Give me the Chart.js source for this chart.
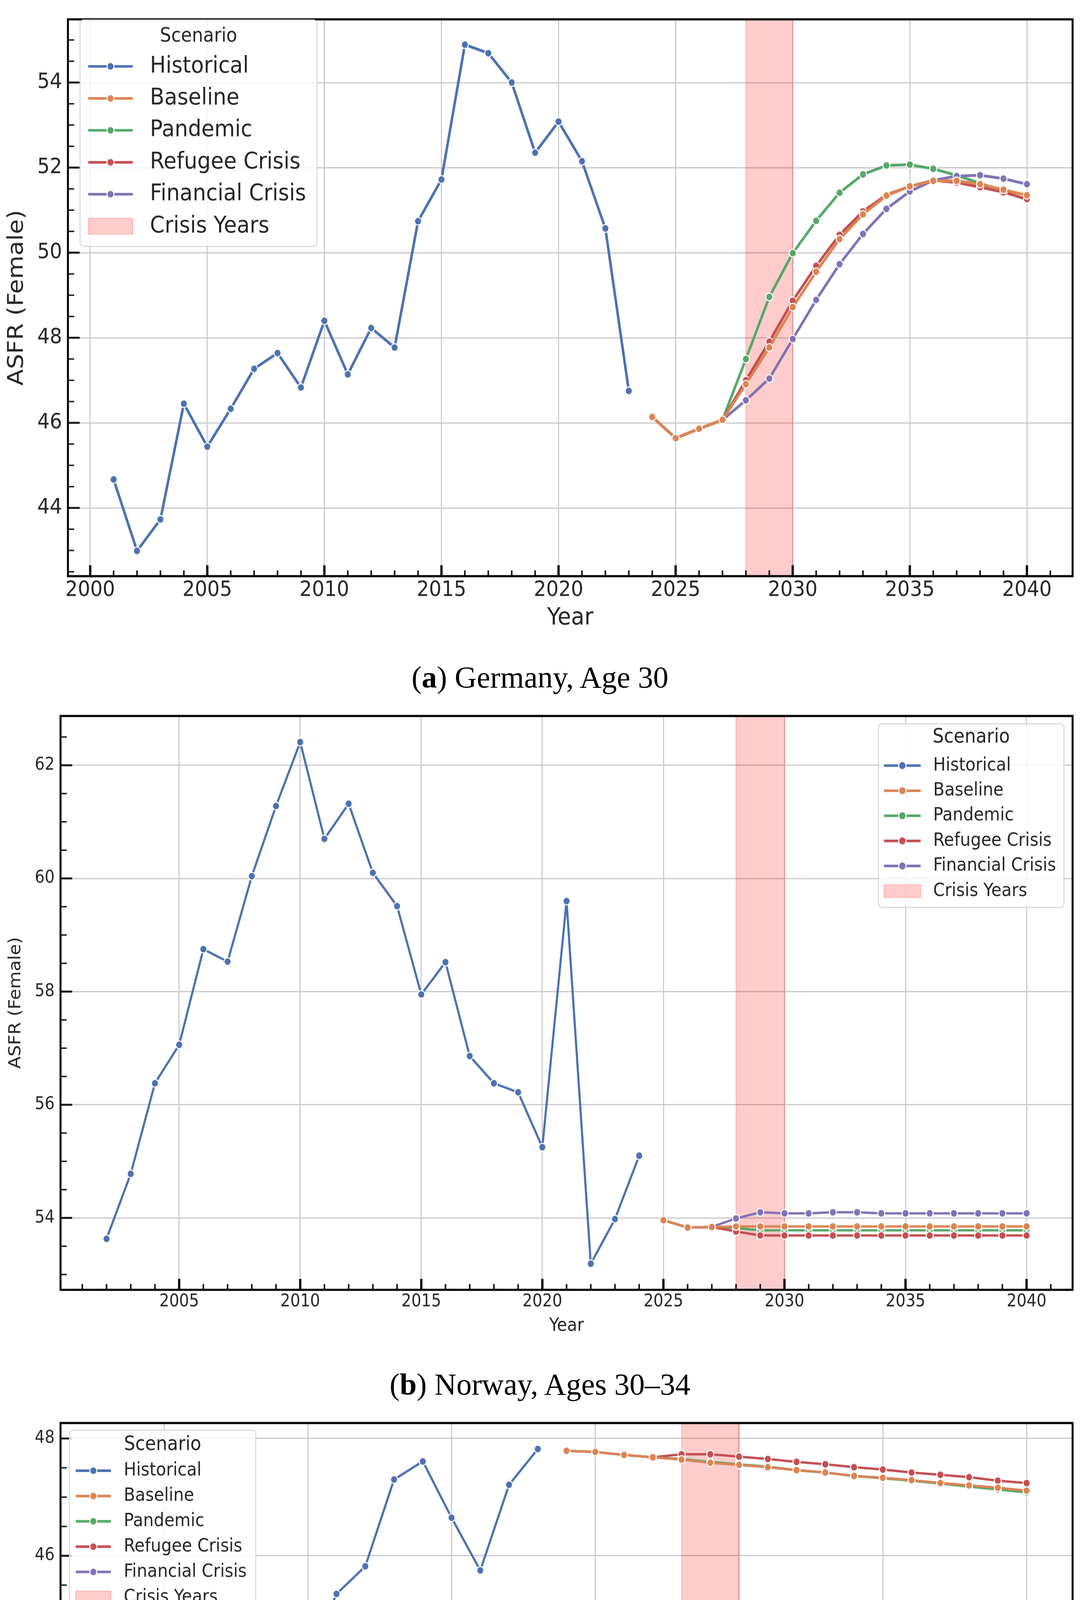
<!DOCTYPE html>
<html>
<head>
<meta charset="utf-8">
<title>ASFR scenarios</title>
<script src="https://cdn.jsdelivr.net/npm/chart.js@4.4.1/dist/chart.umd.min.js"></script>
<style>
  html, body { margin: 0; padding: 0; background: #fff; }
  body { width: 2766px; height: 5407px; position: relative; overflow: hidden; }
  canvas { position: absolute; left: 0; }
  .cap { position: absolute; left: 0; width: 2766px; text-align: center; white-space: nowrap;
         font-family: 'Liberation Serif', 'Times New Roman', serif; font-size: 78px; line-height: 78px; color: #000; }
</style>
</head>
<body>
<canvas id="de" width="2766" height="1500" style="top:0px;width:2766px;height:1650px"></canvas>
<div class="cap" style="top:1695px">(<b>a</b>) Germany, Age 30</div>
<canvas id="no" width="2766" height="1500" style="top:1790px;width:2766px;height:1650px"></canvas>
<div class="cap" style="top:3505px">(<b>b</b>) Norway, Ages 30–34</div>
<canvas id="pt" width="2766" height="1500" style="top:3600px;width:2766px;height:1650px"></canvas>
<div class="cap" style="top:5310px">(<b>c</b>) Portugal, Ages 30–34</div>

<script>
// --- Germany, age 30 ---
var deHistYears = [2001, 2002, 2003, 2004, 2005, 2006, 2007, 2008, 2009, 2010, 2011, 2012,
                   2013, 2014, 2015, 2016, 2017, 2018, 2019, 2020, 2021, 2022, 2023];
var deHist = [44.67, 42.99, 43.73, 46.45, 45.44, 46.33, 47.27, 47.64, 46.83, 48.40, 47.14, 48.23,
              47.77, 50.74, 51.72, 54.89, 54.69, 54.00, 52.35, 53.08, 52.15, 50.57, 46.75];
var deProjYears = [2024, 2025, 2026, 2027, 2028, 2029, 2030, 2031, 2032, 2033, 2034, 2035,
                   2036, 2037, 2038, 2039, 2040];
var deBaseline  = [46.14, 45.64, 45.86, 46.07, 46.91, 47.77, 48.72, 49.55, 50.32, 50.90, 51.34, 51.56, 51.69, 51.69, 51.61, 51.48, 51.35];
var dePandemic  = [46.14, 45.64, 45.86, 46.07, 47.50, 48.96, 49.99, 50.75, 51.41, 51.84, 52.05, 52.07, 51.97, 51.82, 51.63, 51.45, 51.24];
var deRefugee   = [46.14, 45.64, 45.86, 46.07, 47.00, 47.91, 48.87, 49.69, 50.42, 50.97, 51.36, 51.56, 51.70, 51.65, 51.54, 51.42, 51.26];
var deFinancial = [46.14, 45.64, 45.86, 46.07, 46.53, 47.04, 47.97, 48.89, 49.73, 50.44, 51.03, 51.44, 51.70, 51.80, 51.82, 51.74, 51.61];

// --- Norway, ages 30-34 ---
var noHistYears = [2002, 2003, 2004, 2005, 2006, 2007, 2008, 2009, 2010, 2011, 2012, 2013,
                   2014, 2015, 2016, 2017, 2018, 2019, 2020, 2021, 2022, 2023, 2024];
var noHist = [53.63, 54.78, 56.38, 57.06, 58.75, 58.53, 60.04, 61.28, 62.41, 60.70, 61.32, 60.10,
              59.51, 57.95, 58.52, 56.86, 56.38, 56.22, 55.25, 59.60, 53.19, 53.98, 55.10];
var noProjYears = [2025, 2026, 2027, 2028, 2029, 2030, 2031, 2032, 2033, 2034, 2035, 2036,
                   2037, 2038, 2039, 2040];
var noBaseline  = [53.96, 53.83, 53.84, 53.85, 53.85, 53.85, 53.85, 53.85, 53.85, 53.85, 53.85, 53.85, 53.85, 53.85, 53.85, 53.85];
var noPandemic  = [53.96, 53.83, 53.84, 53.82, 53.78, 53.78, 53.78, 53.78, 53.78, 53.78, 53.78, 53.78, 53.78, 53.78, 53.78, 53.78];
var noRefugee   = [53.96, 53.83, 53.84, 53.76, 53.69, 53.69, 53.69, 53.69, 53.69, 53.69, 53.69, 53.69, 53.69, 53.69, 53.69, 53.69];
var noFinancial = [53.96, 53.83, 53.84, 53.99, 54.10, 54.08, 54.08, 54.10, 54.10, 54.08, 54.08, 54.08, 54.08, 54.08, 54.08, 54.08];

// --- Portugal, ages 30-34 ---
var ptHistYears = [2008, 2009, 2010, 2011, 2012, 2013, 2014, 2015, 2016, 2017, 2018, 2019,
                   2020, 2021, 2022, 2023];
var ptHist = [41.69, 40.49, 42.80, 42.32, 40.79, 38.95, 39.98, 44.19, 45.35, 45.82, 47.30, 47.61,
              46.65, 45.75, 47.21, 47.82];
var ptProjYears = [2024, 2025, 2026, 2027, 2028, 2029, 2030, 2031, 2032, 2033, 2034, 2035,
                   2036, 2037, 2038, 2039, 2040];
var ptBaseline  = [47.79, 47.77, 47.72, 47.68, 47.64, 47.585, 47.55, 47.51, 47.46, 47.42, 47.36, 47.33, 47.29, 47.24, 47.20, 47.16, 47.11];
var ptPandemic  = [47.79, 47.77, 47.72, 47.68, 47.65, 47.60, 47.56, 47.52, 47.46, 47.42, 47.36, 47.32, 47.28, 47.23, 47.18, 47.13, 47.08];
var ptRefugee   = [47.79, 47.77, 47.72, 47.68, 47.73, 47.73, 47.69, 47.65, 47.60, 47.56, 47.51, 47.47, 47.42, 47.38, 47.34, 47.28, 47.24];
var ptFinancial = [47.79, 47.77, 47.72, 47.68, 47.64, 47.585, 47.55, 47.51, 47.46, 47.42, 47.36, 47.33, 47.29, 47.24, 47.20, 47.16, 47.11];

var crisisStart = 2028;
var crisisEnd = 2030;
var scenarioNames = ['Historical', 'Baseline', 'Pandemic', 'Refugee Crisis', 'Financial Crisis'];
var scenarioColors = ['#4c72b0', '#dd8452', '#55a868', '#c44e52', '#8172b3'];

Chart.defaults.font.family = "'DejaVu Sans', sans-serif";
Chart.defaults.color = '#262626';

// matplotlib style 5% margins
function padRange(lo, hi) {
  var m = (hi - lo) * 0.05;
  return [lo - m, hi + m];
}

function toPoints(xs, ys) {
  return xs.map(function (x, i) { return { x: x, y: ys[i] }; });
}

function series(i, xs, ys, order, lw, r) {
  return {
    label: scenarioNames[i],
    data: toPoints(xs, ys),
    borderColor: scenarioColors[i],
    backgroundColor: scenarioColors[i],
    pointBackgroundColor: scenarioColors[i],
    pointBorderColor: '#ffffff',
    pointBorderWidth: 2.5,
    pointRadius: r,
    borderWidth: lw,
    borderJoinStyle: 'round',
    borderCapStyle: 'round',
    tension: 0,
    order: order
  };
}

function roundRect(ctx, x0, y0, x1, y1, rad) {
  ctx.beginPath();
  ctx.moveTo(x0 + rad, y0);
  ctx.arcTo(x1, y0, x1, y1, rad);
  ctx.arcTo(x1, y1, x0, y1, rad);
  ctx.arcTo(x0, y1, x0, y0, rad);
  ctx.arcTo(x0, y0, x1, y0, rad);
  ctx.closePath();
}

// crisis band, inward ticks, frame and legend
var decor = {
  id: 'decor',
  beforeDatasetsDraw: function (chart) {
    var ctx = chart.ctx, a = chart.chartArea, x = chart.scales.x;
    var x0 = x.getPixelForValue(crisisStart), x1 = x.getPixelForValue(crisisEnd);
    ctx.save();
    ctx.fillStyle = 'rgba(255,0,0,0.2)';
    ctx.fillRect(x0, a.top, x1 - x0, a.bottom - a.top);
    ctx.strokeStyle = 'rgba(255,0,0,0.2)';
    ctx.lineWidth = 2.5;
    ctx.beginPath();
    ctx.moveTo(x0, a.top); ctx.lineTo(x0, a.bottom);
    ctx.moveTo(x1, a.top); ctx.lineTo(x1, a.bottom);
    ctx.stroke();
    ctx.restore();
  },
  afterDatasetsDraw: function (chart, args, o) {
    var ctx = chart.ctx, a = chart.chartArea, x = chart.scales.x, y = chart.scales.y;
    ctx.save();
    ctx.strokeStyle = '#111';
    var xMajor = x.ticks.map(function (t) { return t.value; });
    for (var v = Math.ceil(x.min); v <= x.max; v++) {
      var maj = xMajor.indexOf(v) >= 0;
      var px = x.getPixelForValue(v);
      ctx.lineWidth = maj ? 6 : 4;
      ctx.beginPath();
      ctx.moveTo(px, a.bottom);
      ctx.lineTo(px, a.bottom - (maj ? 25.5 : 13.5));
      ctx.stroke();
    }
    var yMajor = y.ticks.map(function (t) { return t.value; });
    for (var k = Math.ceil(y.min * 2); k / 2 <= y.max; k++) {
      var val = k / 2;
      var majY = yMajor.indexOf(val) >= 0;
      var py = y.getPixelForValue(val);
      ctx.lineWidth = majY ? 4.5 : 3.2;
      ctx.beginPath();
      ctx.moveTo(a.left, py);
      ctx.lineTo(a.left + (majY ? 30 : 16), py);
      ctx.stroke();
    }
    ctx.strokeStyle = '#000';
    ctx.lineWidth = 5;
    ctx.strokeRect(a.left, a.top, a.right - a.left, a.bottom - a.top);

    // legend
    var L = o.legend;
    roundRect(ctx, L.x0, L.y0, L.x1, L.y1, 9);
    ctx.fillStyle = 'rgba(255,255,255,0.8)';
    ctx.fill();
    ctx.strokeStyle = '#d6d6d6';
    ctx.lineWidth = 2.5;
    ctx.stroke();
    ctx.fillStyle = '#262626';
    ctx.textBaseline = 'middle';
    ctx.textAlign = 'center';
    ctx.font = L.titleFont + "px 'DejaVu Sans'";
    ctx.fillText('Scenario', (L.x0 + L.x1) / 2, L.titleY);
    ctx.textAlign = 'left';
    ctx.font = L.font + "px 'DejaVu Sans'";
    var mx = (L.h0 + L.h1) / 2;
    for (var i = 0; i < scenarioNames.length; i++) {
      var yy = L.rowY + i * L.rowStep;
      ctx.strokeStyle = scenarioColors[i];
      ctx.lineWidth = 6;
      ctx.beginPath();
      ctx.moveTo(L.h0, yy); ctx.lineTo(L.h1, yy);
      ctx.stroke();
      ctx.beginPath();
      ctx.arc(mx, yy, L.r, 0, Math.PI * 2);
      ctx.fillStyle = scenarioColors[i];
      ctx.fill();
      ctx.strokeStyle = '#fff';
      ctx.lineWidth = 2.5;
      ctx.stroke();
      ctx.fillStyle = '#262626';
      ctx.fillText(scenarioNames[i], L.textX, yy);
    }
    var yb = L.rowY + scenarioNames.length * L.rowStep;
    ctx.fillStyle = 'rgba(255,0,0,0.2)';
    ctx.fillRect(L.h0, yb - L.patchH / 2, L.h1 - L.h0, L.patchH);
    ctx.strokeStyle = 'rgba(255,0,0,0.2)';
    ctx.lineWidth = 2;
    ctx.strokeRect(L.h0, yb - L.patchH / 2, L.h1 - L.h0, L.patchH);
    ctx.fillStyle = '#262626';
    ctx.fillText('Crisis Years', L.textX, yb);
    ctx.restore();
  }
};

function makeChart(id, p) {
  var all = p.hist.concat(p.base, p.pand, p.refu, p.fina);
  var xr = padRange(p.histYears[0], p.projYears[p.projYears.length - 1]);
  var yr = padRange(Math.min.apply(null, all), Math.max.apply(null, all));
  var grid = { color: '#cccccc', lineWidth: 3, drawTicks: false };
  return new Chart(document.getElementById(id), {
    type: 'line',
    data: {
      datasets: [
        series(0, p.histYears, p.hist, 4, p.lw, p.r),
        series(2, p.projYears, p.pand, 3, p.lw, p.r),
        series(3, p.projYears, p.refu, 2, p.lw, p.r),
        series(4, p.projYears, p.fina, 1, p.lw, p.r),
        series(1, p.projYears, p.base, 0, p.lw, p.r)
      ]
    },
    options: {
      responsive: false,
      animation: false,
      events: [],
      layout: { padding: { top: p.top, right: 19, left: 0, bottom: 0 } },
      scales: {
        x: {
          type: 'linear', min: xr[0], max: xr[1],
          grid: grid, border: { display: false },
          ticks: { stepSize: 5, includeBounds: false, autoSkip: false, maxRotation: 0,
                   padding: p.xtPad, font: { size: p.tick }, color: '#262626',
                   callback: function (v) { return String(v); } },
          title: { display: true, text: 'Year', font: { size: p.title }, color: '#262626',
                   padding: { top: 0, bottom: p.xTitlePad } },
          afterFit: function (s) { s.height = p.xh; }
        },
        y: {
          type: 'linear', min: yr[0], max: yr[1],
          grid: grid, border: { display: false },
          ticks: { stepSize: 2, includeBounds: false, padding: 15, font: { size: p.tick }, color: '#262626',
                   callback: function (v) { return String(v); } },
          title: { display: true, text: 'ASFR (Female)', font: { size: p.title }, color: '#262626',
                   padding: { top: p.yTitlePad, bottom: 0 } },
          afterFit: function (s) { s.width = p.yw; }
        }
      },
      plugins: {
        legend: { display: false },
        tooltip: { enabled: false },
        decor: { legend: p.legend }
      }
    },
    plugins: [decor]
  });
}

makeChart('de', {
  histYears: deHistYears, hist: deHist, projYears: deProjYears,
  base: deBaseline, pand: dePandemic, refu: deRefugee, fina: deFinancial,
  top: 18.2, xh: 159.1, yw: 174, tick: 50, title: 56, xtPad: 3, xTitlePad: 28, yTitlePad: 10,
  lw: 6.5, r: 9,
  legend: { x0: 205, x1: 812, y0: 46.4, y1: 573.6, titleY: 85.5, rowY: 154.5, rowStep: 74.4,
            h0: 226, h1: 340, textX: 384, font: 54, titleFont: 45.5, r: 9, patchH: 37.5 }
});

makeChart('no', {
  histYears: noHistYears, hist: noHist, projYears: noProjYears,
  base: noBaseline, pand: noPandemic, refu: noRefugee, fina: noFinancial,
  top: 35.5, xh: 125.5, yw: 155, tick: 40, title: 42, xtPad: 4, xTitlePad: 16, yTitlePad: 16,
  lw: 5.5, r: 9,
  legend: { x0: 2250, x1: 2725, y0: 57.3, y1: 484.5, titleY: 89.5, rowY: 154.5, rowStep: 58.4,
            h0: 2264, h1: 2358, textX: 2390, font: 42.5, titleFont: 45.5, r: 9.5, patchH: 30 }
});

makeChart('pt', {
  histYears: ptHistYears, hist: ptHist, projYears: ptProjYears,
  base: ptBaseline, pand: ptPandemic, refu: ptRefugee, fina: ptFinancial,
  top: 30.9, xh: 129.1, yw: 155, tick: 40, title: 42, xtPad: 4, xTitlePad: 16.5, yTitlePad: 16,
  lw: 5.5, r: 9,
  legend: { x0: 178, x1: 655, y0: 55.5, y1: 480, titleY: 90, rowY: 150, rowStep: 58.9,
            h0: 194, h1: 284, textX: 317, font: 42.5, titleFont: 45.5, r: 9, patchH: 29 }
});
</script>
</body>
</html>
